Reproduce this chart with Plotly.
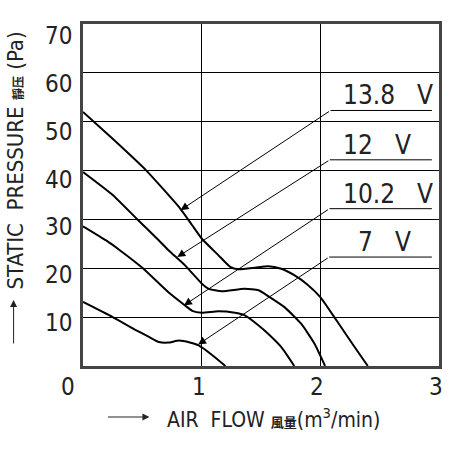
import plotly.graph_objects as go

# ---- data ----
x_138 = [0, 0.25, 0.53, 0.81, 0.92, 1.0, 1.14, 1.24, 1.31, 1.45, 1.56, 1.67, 1.78, 1.89, 2.0, 2.14, 2.28, 2.40]
y_138 = [52.0, 46.5, 40.1, 32.5, 28.8, 26.1, 22.7, 20.3, 19.8, 20.1, 20.4, 19.9, 18.6, 16.7, 14.1, 9.2, 4.2, 0]

x_12 = [0, 0.25, 0.45, 0.64, 0.72, 0.86, 1.0, 1.06, 1.17, 1.36, 1.48, 1.56, 1.70, 1.84, 1.95, 2.04]
y_12 = [39.7, 35.0, 30.2, 25.7, 23.7, 20.6, 16.9, 15.8, 15.3, 15.8, 15.5, 14.3, 12.0, 8.6, 4.6, 0]

x_102 = [0, 0.195, 0.31, 0.50, 0.72, 0.86, 0.92, 1.0, 1.14, 1.28, 1.36, 1.48, 1.56, 1.67, 1.78]
y_102 = [28.6, 25.7, 23.7, 20.1, 15.1, 12.4, 11.3, 10.9, 11.2, 10.9, 10.4, 8.3, 6.6, 3.9, 0]

x_7 = [0, 0.25, 0.45, 0.56, 0.64, 0.72, 0.81, 0.90, 0.975, 1.09, 1.20]
y_7 = [13.1, 10.0, 7.3, 5.9, 4.9, 4.8, 5.2, 4.8, 4.2, 2.2, 0]

series_names = ["13.8", "12", "10.2", "7"]
series_x = [x_138, x_12, x_102, x_7]
series_y = [y_138, y_12, y_102, y_7]

# arrow tips on curves and label anchor points (data units)
tip_x = [0.822, 0.794, 0.85, 0.97]
tip_y = [31.9, 22.3, 12.4, 4.4]
lab_x = [2.086, 2.08, 2.077, 2.075]
lab_y = [52.3, 42.2, 32.2, 22.3]
lab_end_x = 2.94
num_x = [2.17, 2.17, 2.17, 2.30]
v_x = [2.80, 2.615, 2.80, 2.615]

y_ticks = [70, 60, 50, 40, 30, 20, 10]
x_ticks = [1, 2, 3]

FONT = "DejaVu Sans Condensed, Liberation Sans, Noto Sans CJK SC, sans-serif"
INK = "#222"

# plot-area pixel geometry (for converting page pixels to paper coords)
L, T, W, H = 83, 24, 359, 342


def px(xp):
    return (xp - L) / W


def py(yp):
    return (T + H - yp) / H


fig = go.Figure()
for xs, ys, nm in zip(series_x, series_y, series_names):
    fig.add_trace(go.Scatter(x=xs, y=ys, mode="lines", name=nm + " V",
                             line=dict(color="black", width=2, shape="spline", smoothing=0.5),
                             showlegend=False, hoverinfo="skip"))

ann = []
shapes = []
for i in range(4):
    ann.append(dict(x=tip_x[i], y=tip_y[i], ax=lab_x[i], ay=lab_y[i], xref="x", yref="y",
                    axref="x", ayref="y", text="", showarrow=True, arrowhead=2,
                    arrowsize=1.6, arrowwidth=1, arrowcolor="black"))
    shapes.append(dict(type="line", xref="x", yref="y", x0=lab_x[i], x1=lab_end_x,
                       y0=lab_y[i], y1=lab_y[i], line=dict(color="black", width=1)))
    ann.append(dict(x=num_x[i], y=lab_y[i], xref="x", yref="y", text=series_names[i],
                    showarrow=False, xanchor="left", yanchor="bottom", yshift=-2,
                    font=dict(family=FONT, size=26, color=INK)))
    ann.append(dict(x=v_x[i], y=lab_y[i], xref="x", yref="y", text="V",
                    showarrow=False, xanchor="left", yanchor="bottom", yshift=-2,
                    font=dict(family=FONT, size=26, color=INK)))

for v in y_ticks:
    ann.append(dict(x=0, y=v, xref="paper", yref="y", text=str(v), showarrow=False,
                    xanchor="right", yanchor="middle", xshift=-9, yshift=-(5 + 0.1 * v),
                    font=dict(family=FONT, size=24, color=INK)))
for v in x_ticks:
    ann.append(dict(x=v, y=0, xref="x", yref="paper", text=str(v), showarrow=False,
                    xanchor="center", yanchor="middle", xshift=-3, yshift=-21,
                    font=dict(family=FONT, size=24, color=INK)))
ann.append(dict(x=0, y=0, xref="x", yref="paper", text="0", showarrow=False,
                xanchor="center", yanchor="middle", xshift=-15, yshift=-21,
                font=dict(family=FONT, size=24, color=INK)))

# axis titles
ann.append(dict(x=px(166), y=py(418), xref="paper", yref="paper",
                text="AIR  FLOW <span style='font-size:13px;font-weight:bold'>風量</span>(m<sup>3</sup>/min)",
                showarrow=False, xanchor="left", yanchor="middle",
                font=dict(family=FONT, size=21, color=INK)))
ann.append(dict(x=px(150), y=py(417), xref="paper", yref="paper", ax=-43, ay=0,
                text="", showarrow=True, arrowhead=2, arrowsize=1.4, arrowwidth=1, arrowcolor=INK))
ann.append(dict(x=px(15), y=py(161), xref="paper", yref="paper",
                text="STATIC  PRESSURE <span style='font-size:12px;font-weight:bold'>靜压</span> (Pa)",
                textangle=-90, showarrow=False, xanchor="center", yanchor="middle",
                font=dict(family=FONT, size=22, color=INK)))
ann.append(dict(x=px(13), y=py(300), xref="paper", yref="paper", ax=0, ay=45,
                text="", showarrow=True, arrowhead=2, arrowsize=1.4, arrowwidth=1, arrowcolor=INK))

fig.update_layout(
    width=451, height=450,
    margin=dict(l=L, r=451 - L - W, t=T, b=450 - T - H),
    paper_bgcolor="white", plot_bgcolor="white",
    annotations=ann, shapes=shapes,
    xaxis=dict(range=[0, 3], dtick=1, showgrid=True, gridcolor="black", gridwidth=1.3,
               showticklabels=False, ticks="", zeroline=False,
               showline=True, mirror=True, linecolor="#444", linewidth=2.5),
    yaxis=dict(range=[0, 70], dtick=10, showgrid=True, gridcolor="black", gridwidth=1.3,
               showticklabels=False, ticks="", zeroline=False,
               showline=True, mirror=True, linecolor="#444", linewidth=2.5),
)

fig.write_html("out.html")
